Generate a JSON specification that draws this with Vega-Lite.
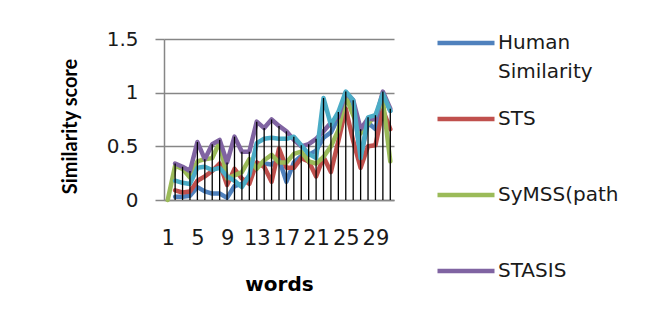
{
  "$schema": "https://vega.github.io/schema/vega-lite/v6.json",
  "width": 230,
  "height": 161,
  "autosize": {"type": "none"},
  "padding": {"left": 164, "top": 39, "right": 271, "bottom": 124},
  "background": "white",
  "config": {"view": {"stroke": null}, "font": "DejaVu Sans", "axisX": {"labelOverlap": false}},
  "datasets": {
    "d": [
      {"w": 2, "s": "Human Similarity", "v": 0.03}, {"w": 3, "s": "Human Similarity", "v": 0.03}, {"w": 4, "s": "Human Similarity", "v": 0.04}, {"w": 5, "s": "Human Similarity", "v": 0.12}, {"w": 6, "s": "Human Similarity", "v": 0.08}, {"w": 7, "s": "Human Similarity", "v": 0.06}, {"w": 8, "s": "Human Similarity", "v": 0.06}, {"w": 9, "s": "Human Similarity", "v": 0.02}, {"w": 10, "s": "Human Similarity", "v": 0.13}, {"w": 11, "s": "Human Similarity", "v": 0.15}, {"w": 12, "s": "Human Similarity", "v": 0.22}, {"w": 13, "s": "Human Similarity", "v": 0.33}, {"w": 14, "s": "Human Similarity", "v": 0.34}, {"w": 15, "s": "Human Similarity", "v": 0.33}, {"w": 16, "s": "Human Similarity", "v": 0.38}, {"w": 17, "s": "Human Similarity", "v": 0.17}, {"w": 18, "s": "Human Similarity", "v": 0.35}, {"w": 19, "s": "Human Similarity", "v": 0.41}, {"w": 20, "s": "Human Similarity", "v": 0.42}, {"w": 21, "s": "Human Similarity", "v": 0.46}, {"w": 22, "s": "Human Similarity", "v": 0.58}, {"w": 23, "s": "Human Similarity", "v": 0.63}, {"w": 24, "s": "Human Similarity", "v": 0.77}, {"w": 25, "s": "Human Similarity", "v": 1.0}, {"w": 26, "s": "Human Similarity", "v": 0.9}, {"w": 27, "s": "Human Similarity", "v": 0.4}, {"w": 28, "s": "Human Similarity", "v": 0.72}, {"w": 29, "s": "Human Similarity", "v": 0.66}, {"w": 30, "s": "Human Similarity", "v": 0.99}, {"w": 31, "s": "Human Similarity", "v": 0.83},
      {"w": 2, "s": "STS", "v": 0.09}, {"w": 3, "s": "STS", "v": 0.07}, {"w": 4, "s": "STS", "v": 0.08}, {"w": 5, "s": "STS", "v": 0.18}, {"w": 6, "s": "STS", "v": 0.22}, {"w": 7, "s": "STS", "v": 0.27}, {"w": 8, "s": "STS", "v": 0.34}, {"w": 9, "s": "STS", "v": 0.14}, {"w": 10, "s": "STS", "v": 0.29}, {"w": 11, "s": "STS", "v": 0.2}, {"w": 12, "s": "STS", "v": 0.15}, {"w": 13, "s": "STS", "v": 0.35}, {"w": 14, "s": "STS", "v": 0.31}, {"w": 15, "s": "STS", "v": 0.17}, {"w": 16, "s": "STS", "v": 0.48}, {"w": 17, "s": "STS", "v": 0.3}, {"w": 18, "s": "STS", "v": 0.3}, {"w": 19, "s": "STS", "v": 0.39}, {"w": 20, "s": "STS", "v": 0.36}, {"w": 21, "s": "STS", "v": 0.22}, {"w": 22, "s": "STS", "v": 0.4}, {"w": 23, "s": "STS", "v": 0.26}, {"w": 24, "s": "STS", "v": 0.55}, {"w": 25, "s": "STS", "v": 0.85}, {"w": 26, "s": "STS", "v": 0.55}, {"w": 27, "s": "STS", "v": 0.3}, {"w": 28, "s": "STS", "v": 0.5}, {"w": 29, "s": "STS", "v": 0.51}, {"w": 30, "s": "STS", "v": 0.84}, {"w": 31, "s": "STS", "v": 0.66},
      {"w": 1, "s": "SyMSS(path", "v": 0}, {"w": 2, "s": "SyMSS(path", "v": 0.32}, {"w": 3, "s": "SyMSS(path", "v": 0.29}, {"w": 4, "s": "SyMSS(path", "v": 0.21}, {"w": 5, "s": "SyMSS(path", "v": 0.36}, {"w": 6, "s": "SyMSS(path", "v": 0.38}, {"w": 7, "s": "SyMSS(path", "v": 0.39}, {"w": 8, "s": "SyMSS(path", "v": 0.54}, {"w": 9, "s": "SyMSS(path", "v": 0.2}, {"w": 10, "s": "SyMSS(path", "v": 0.23}, {"w": 11, "s": "SyMSS(path", "v": 0.26}, {"w": 12, "s": "SyMSS(path", "v": 0.38}, {"w": 13, "s": "SyMSS(path", "v": 0.29}, {"w": 14, "s": "SyMSS(path", "v": 0.37}, {"w": 15, "s": "SyMSS(path", "v": 0.42}, {"w": 16, "s": "SyMSS(path", "v": 0.35}, {"w": 17, "s": "SyMSS(path", "v": 0.35}, {"w": 18, "s": "SyMSS(path", "v": 0.43}, {"w": 19, "s": "SyMSS(path", "v": 0.45}, {"w": 20, "s": "SyMSS(path", "v": 0.36}, {"w": 21, "s": "SyMSS(path", "v": 0.34}, {"w": 22, "s": "SyMSS(path", "v": 0.4}, {"w": 23, "s": "SyMSS(path", "v": 0.5}, {"w": 24, "s": "SyMSS(path", "v": 0.65}, {"w": 25, "s": "SyMSS(path", "v": 0.96}, {"w": 26, "s": "SyMSS(path", "v": 0.79}, {"w": 27, "s": "SyMSS(path", "v": 0.62}, {"w": 28, "s": "SyMSS(path", "v": 0.71}, {"w": 29, "s": "SyMSS(path", "v": 0.79}, {"w": 30, "s": "SyMSS(path", "v": 0.93}, {"w": 31, "s": "SyMSS(path", "v": 0.36},
      {"w": 2, "s": "STASIS", "v": 0.34}, {"w": 3, "s": "STASIS", "v": 0.31}, {"w": 4, "s": "STASIS", "v": 0.27}, {"w": 5, "s": "STASIS", "v": 0.54}, {"w": 6, "s": "STASIS", "v": 0.38}, {"w": 7, "s": "STASIS", "v": 0.52}, {"w": 8, "s": "STASIS", "v": 0.56}, {"w": 9, "s": "STASIS", "v": 0.35}, {"w": 10, "s": "STASIS", "v": 0.59}, {"w": 11, "s": "STASIS", "v": 0.45}, {"w": 12, "s": "STASIS", "v": 0.45}, {"w": 13, "s": "STASIS", "v": 0.73}, {"w": 14, "s": "STASIS", "v": 0.67}, {"w": 15, "s": "STASIS", "v": 0.75}, {"w": 16, "s": "STASIS", "v": 0.69}, {"w": 17, "s": "STASIS", "v": 0.64}, {"w": 18, "s": "STASIS", "v": 0.56}, {"w": 19, "s": "STASIS", "v": 0.5}, {"w": 20, "s": "STASIS", "v": 0.52}, {"w": 21, "s": "STASIS", "v": 0.57}, {"w": 22, "s": "STASIS", "v": 0.64}, {"w": 23, "s": "STASIS", "v": 0.72}, {"w": 24, "s": "STASIS", "v": 0.77}, {"w": 25, "s": "STASIS", "v": 1.0}, {"w": 26, "s": "STASIS", "v": 0.93}, {"w": 27, "s": "STASIS", "v": 0.66}, {"w": 28, "s": "STASIS", "v": 0.76}, {"w": 29, "s": "STASIS", "v": 0.75}, {"w": 30, "s": "STASIS", "v": 1.01}, {"w": 31, "s": "STASIS", "v": 0.85},
      {"w": 2, "s": "Series5", "v": 0.18}, {"w": 3, "s": "Series5", "v": 0.16}, {"w": 4, "s": "Series5", "v": 0.15}, {"w": 5, "s": "Series5", "v": 0.3}, {"w": 6, "s": "Series5", "v": 0.31}, {"w": 7, "s": "Series5", "v": 0.28}, {"w": 8, "s": "Series5", "v": 0.3}, {"w": 9, "s": "Series5", "v": 0.22}, {"w": 10, "s": "Series5", "v": 0.18}, {"w": 11, "s": "Series5", "v": 0.12}, {"w": 12, "s": "Series5", "v": 0.23}, {"w": 13, "s": "Series5", "v": 0.53}, {"w": 14, "s": "Series5", "v": 0.57}, {"w": 15, "s": "Series5", "v": 0.58}, {"w": 16, "s": "Series5", "v": 0.57}, {"w": 17, "s": "Series5", "v": 0.57}, {"w": 18, "s": "Series5", "v": 0.59}, {"w": 19, "s": "Series5", "v": 0.51}, {"w": 20, "s": "Series5", "v": 0.43}, {"w": 21, "s": "Series5", "v": 0.39}, {"w": 22, "s": "Series5", "v": 0.95}, {"w": 23, "s": "Series5", "v": 0.7}, {"w": 24, "s": "Series5", "v": 0.82}, {"w": 25, "s": "Series5", "v": 1.01}, {"w": 26, "s": "Series5", "v": 0.93}, {"w": 27, "s": "Series5", "v": 0.39}, {"w": 28, "s": "Series5", "v": 0.77}, {"w": 29, "s": "Series5", "v": 0.79}, {"w": 30, "s": "Series5", "v": 0.99}, {"w": 31, "s": "Series5", "v": 0.83}
    ]
  },
  "data": {"name": "d"},
  "layer": [
    {
      "transform": [{"filter": "datum.s !== 'Series5'"}],
      "mark": {"type": "line", "strokeWidth": 4.5, "strokeJoin": "round", "strokeCap": "round"},
      "encoding": {
        "x": {
          "field": "w", "type": "quantitative",
          "scale": {"domain": [0.5, 31.5], "nice": false, "zero": false},
          "axis": {
            "values": [1, 5, 9, 13, 17, 21, 25, 29], "tickCount": 40, "grid": false, "ticks": false, "tickSize": 0,
            "domainColor": "#868686", "domainWidth": 1.5,
            "labelFont": "DejaVu Sans", "labelFontSize": 21, "labelColor": "#1a1a1a", "labelPadding": 27, "labelOverlap": false, "labelFlush": false,
            "title": "words", "titleFont": "DejaVu Sans", "titleFontSize": 20, "titleFontWeight": "bold", "titleColor": "#000", "titlePadding": 26
          }
        },
        "y": {
          "field": "v", "type": "quantitative",
          "scale": {"domain": [0, 1.5], "nice": false},
          "axis": {
            "values": [0, 0.5, 1, 1.5], "tickCount": 10, "format": "~g", "grid": true, "gridColor": "#868686", "gridWidth": 1.5,
            "tickSize": 9, "tickColor": "#868686", "tickWidth": 1.5, "domainColor": "#868686", "domainWidth": 1.5,
            "labelFont": "DejaVu Sans", "labelFontSize": 20, "labelColor": "#1a1a1a", "labelPadding": 17,
            "title": "Similarity score", "titleFont": "Lato", "titleFontSize": 20, "titleFontWeight": "bold", "titleColor": "#000", "titlePadding": 26, "titleY": 87
          }
        },
        "color": {
          "field": "s", "type": "nominal",
          "scale": {"domain": ["Human Similarity", "STS", "SyMSS(path", "STASIS"], "range": ["#4F81BD", "#C0504D", "#9BBB59", "#8064A2"]},
          "legend": {
            "orient": "none", "legendX": 271, "legendY": -27, "title": null,
            "symbolType": "stroke", "symbolSize": 3249, "symbolStrokeWidth": 4.5,
            "labelFont": "DejaVu Sans", "labelFontSize": 20, "labelColor": "#1a1a1a", "labelOffset": 1, "labelLimit": 300,
            "labelExpr": "datum.label == 'Human Similarity' ? ['Human', 'Similarity'] : [datum.label, '']",
            "rowPadding": 6,
            "encode": {"labels": {"update": {"lineHeight": {"value": 29}}}}
          }
        }
      }
    },
    {
      "transform": [{"filter": "datum.s === 'Series5'"}],
      "mark": {"type": "line", "strokeWidth": 4.5, "strokeJoin": "round", "strokeCap": "round", "color": "#4BACC6"},
      "encoding": {
        "x": {"field": "w", "type": "quantitative"},
        "y": {"field": "v", "type": "quantitative"}
      }
    },
    {
      "transform": [{"aggregate": [{"op": "max", "field": "v", "as": "top"}], "groupby": ["w"]}],
      "mark": {"type": "rule", "color": "#000", "strokeWidth": 1.3},
      "encoding": {
        "x": {"field": "w", "type": "quantitative"},
        "y": {"field": "top", "type": "quantitative"},
        "y2": {"datum": 0}
      }
    }
  ]
}
